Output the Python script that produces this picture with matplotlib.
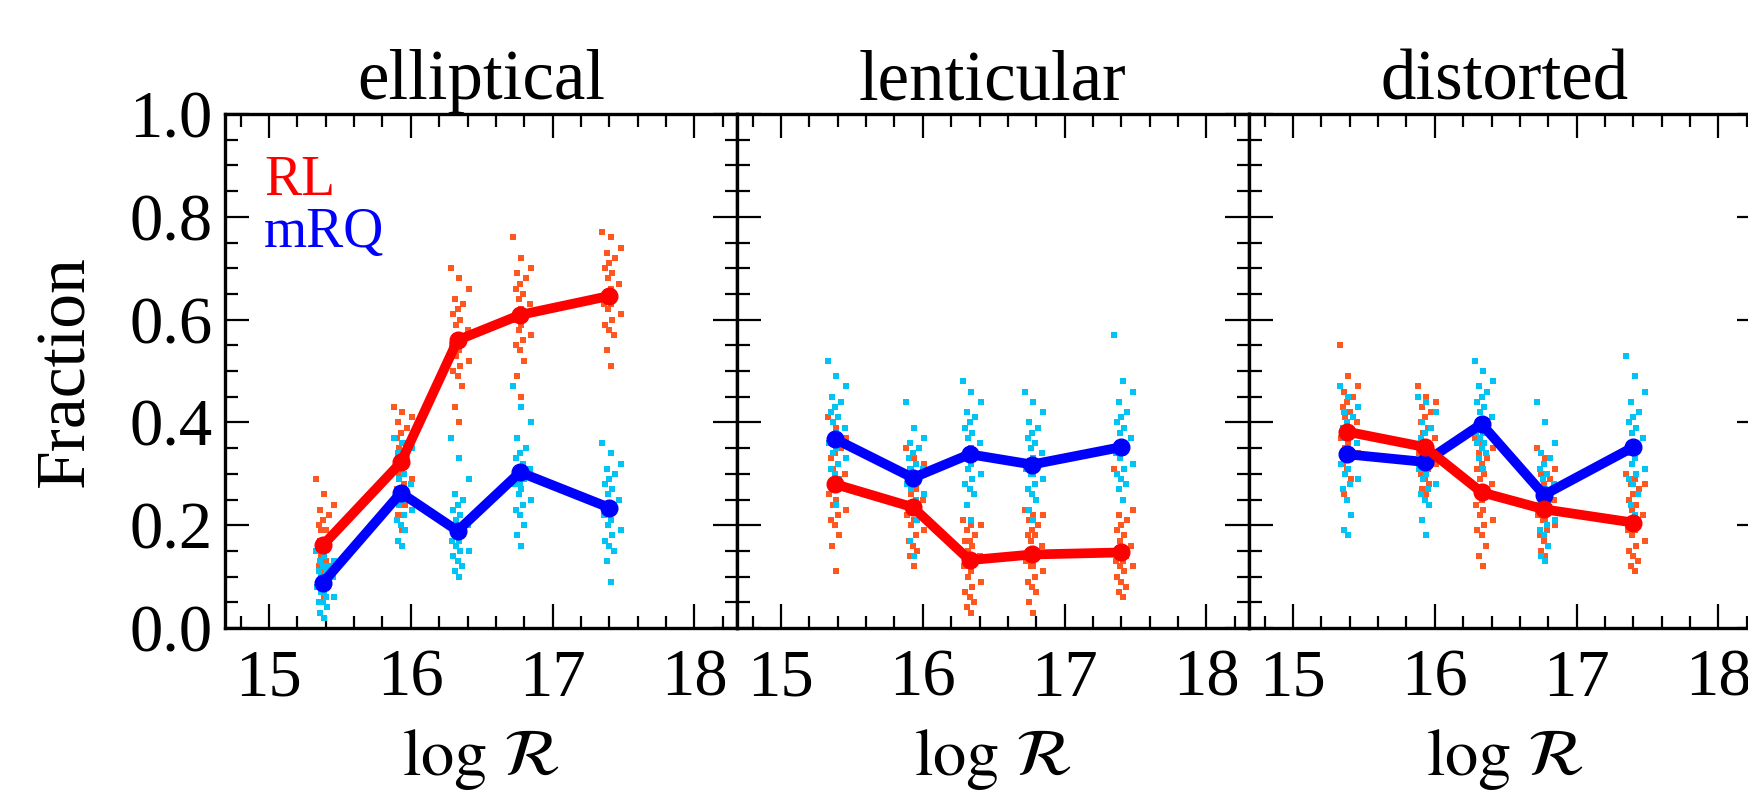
import matplotlib
matplotlib.use("Agg")
import matplotlib.pyplot as plt
from matplotlib.ticker import MultipleLocator

plt.rcParams["font.family"] = ["Liberation Serif", "DejaVu Serif"]
plt.rcParams["mathtext.fontset"] = "stix"

# ---- data ----
log_r = [15.38, 15.93, 16.33, 16.77, 17.40]
titles = ["elliptical", "lenticular", "distorted"]

# mean fractions (the thick lines)
rl_elliptical = [0.161, 0.322, 0.560, 0.609, 0.646]
mrq_elliptical = [0.088, 0.263, 0.189, 0.303, 0.234]
rl_lenticular = [0.280, 0.235, 0.132, 0.143, 0.147]
mrq_lenticular = [0.368, 0.292, 0.338, 0.318, 0.352]
rl_distorted = [0.382, 0.352, 0.264, 0.231, 0.205]
mrq_distorted = [0.338, 0.323, 0.397, 0.259, 0.352]

# horizontal offsets of the sample points around each log R bin
x_jitter = [0.01, -0.02, 0.03, 0.00, -0.03, 0.02, 0.08, -0.01, 0.01, -0.04, 0.00, 0.03,
            -0.02, 0.01, 0.07, -0.01, 0.02, -0.03, 0.00, 0.04, -0.02, 0.08, 0.01, -0.05]

# sample clouds, one list per log R bin
rl_samples_elliptical = [
    [0.06, 0.08, 0.10, 0.11, 0.12, 0.13, 0.13, 0.14, 0.15, 0.15, 0.16, 0.16,
     0.17, 0.17, 0.18, 0.19, 0.19, 0.20, 0.21, 0.22, 0.23, 0.24, 0.26, 0.29],
    [0.19, 0.22, 0.24, 0.26, 0.27, 0.28, 0.29, 0.30, 0.31, 0.31, 0.32, 0.33,
     0.33, 0.34, 0.35, 0.35, 0.36, 0.37, 0.38, 0.39, 0.40, 0.41, 0.42, 0.43],
    [0.40, 0.43, 0.47, 0.49, 0.50, 0.51, 0.52, 0.53, 0.54, 0.55, 0.55, 0.56,
     0.56, 0.57, 0.58, 0.59, 0.60, 0.61, 0.62, 0.63, 0.64, 0.66, 0.68, 0.70],
    [0.45, 0.49, 0.52, 0.54, 0.55, 0.56, 0.57, 0.58, 0.59, 0.60, 0.60, 0.61,
     0.61, 0.62, 0.63, 0.64, 0.65, 0.66, 0.67, 0.68, 0.69, 0.70, 0.72, 0.76],
    [0.51, 0.54, 0.57, 0.58, 0.59, 0.60, 0.61, 0.62, 0.63, 0.63, 0.64, 0.65,
     0.65, 0.66, 0.67, 0.68, 0.69, 0.70, 0.71, 0.72, 0.73, 0.74, 0.76, 0.77],
]
mrq_samples_elliptical = [
    [0.02, 0.03, 0.04, 0.05, 0.05, 0.06, 0.06, 0.07, 0.07, 0.08, 0.08, 0.09,
     0.09, 0.09, 0.10, 0.10, 0.11, 0.11, 0.12, 0.12, 0.13, 0.13, 0.14, 0.15],
    [0.16, 0.17, 0.19, 0.20, 0.21, 0.22, 0.23, 0.24, 0.25, 0.25, 0.26, 0.26,
     0.27, 0.27, 0.28, 0.29, 0.30, 0.31, 0.32, 0.33, 0.34, 0.35, 0.36, 0.37],
    [0.10, 0.11, 0.12, 0.13, 0.14, 0.15, 0.15, 0.16, 0.17, 0.17, 0.18, 0.18,
     0.19, 0.19, 0.20, 0.21, 0.22, 0.23, 0.24, 0.25, 0.26, 0.29, 0.33, 0.37],
    [0.16, 0.18, 0.20, 0.22, 0.23, 0.24, 0.25, 0.26, 0.27, 0.28, 0.28, 0.29,
     0.30, 0.30, 0.31, 0.31, 0.32, 0.33, 0.34, 0.35, 0.37, 0.40, 0.43, 0.47],
    [0.09, 0.13, 0.15, 0.16, 0.17, 0.18, 0.19, 0.20, 0.21, 0.22, 0.23, 0.23,
     0.24, 0.24, 0.25, 0.26, 0.27, 0.28, 0.29, 0.30, 0.31, 0.32, 0.34, 0.36],
]
rl_samples_lenticular = [
    [0.11, 0.16, 0.18, 0.20, 0.21, 0.22, 0.23, 0.24, 0.25, 0.26, 0.27, 0.28,
     0.28, 0.29, 0.30, 0.31, 0.32, 0.33, 0.34, 0.35, 0.36, 0.37, 0.39, 0.41],
    [0.12, 0.14, 0.15, 0.16, 0.17, 0.18, 0.19, 0.20, 0.21, 0.22, 0.23, 0.23,
     0.24, 0.24, 0.25, 0.26, 0.27, 0.28, 0.29, 0.30, 0.31, 0.32, 0.33, 0.35],
    [0.03, 0.04, 0.05, 0.06, 0.07, 0.08, 0.09, 0.10, 0.11, 0.12, 0.12, 0.13,
     0.13, 0.14, 0.14, 0.15, 0.16, 0.17, 0.17, 0.18, 0.19, 0.20, 0.20, 0.21],
    [0.03, 0.05, 0.07, 0.08, 0.09, 0.10, 0.11, 0.12, 0.12, 0.13, 0.14, 0.14,
     0.15, 0.15, 0.16, 0.17, 0.18, 0.18, 0.19, 0.20, 0.21, 0.22, 0.22, 0.23],
    [0.06, 0.07, 0.08, 0.09, 0.10, 0.11, 0.12, 0.12, 0.13, 0.13, 0.14, 0.14,
     0.15, 0.15, 0.16, 0.17, 0.18, 0.19, 0.20, 0.21, 0.22, 0.23, 0.25, 0.31],
]
mrq_samples_lenticular = [
    [0.24, 0.27, 0.29, 0.30, 0.31, 0.32, 0.33, 0.34, 0.35, 0.36, 0.36, 0.37,
     0.37, 0.38, 0.39, 0.40, 0.41, 0.42, 0.43, 0.44, 0.45, 0.47, 0.49, 0.52],
    [0.14, 0.17, 0.21, 0.23, 0.24, 0.25, 0.26, 0.27, 0.28, 0.28, 0.29, 0.29,
     0.30, 0.30, 0.31, 0.31, 0.32, 0.33, 0.34, 0.35, 0.36, 0.37, 0.39, 0.44],
    [0.21, 0.24, 0.26, 0.27, 0.28, 0.29, 0.30, 0.31, 0.32, 0.33, 0.33, 0.34,
     0.34, 0.35, 0.36, 0.37, 0.38, 0.39, 0.40, 0.41, 0.42, 0.44, 0.46, 0.48],
    [0.21, 0.23, 0.25, 0.26, 0.27, 0.28, 0.29, 0.30, 0.30, 0.31, 0.31, 0.32,
     0.32, 0.33, 0.34, 0.35, 0.36, 0.37, 0.38, 0.39, 0.40, 0.42, 0.44, 0.46],
    [0.25, 0.27, 0.28, 0.29, 0.30, 0.31, 0.32, 0.33, 0.34, 0.34, 0.35, 0.35,
     0.36, 0.36, 0.37, 0.38, 0.39, 0.40, 0.41, 0.42, 0.44, 0.46, 0.48, 0.57],
]
rl_samples_distorted = [
    [0.18, 0.26, 0.29, 0.31, 0.32, 0.33, 0.34, 0.35, 0.36, 0.37, 0.38, 0.38,
     0.39, 0.39, 0.40, 0.41, 0.42, 0.43, 0.44, 0.45, 0.46, 0.47, 0.49, 0.55],
    [0.26, 0.27, 0.28, 0.29, 0.30, 0.31, 0.32, 0.33, 0.34, 0.34, 0.35, 0.35,
     0.36, 0.36, 0.37, 0.38, 0.39, 0.40, 0.41, 0.42, 0.43, 0.44, 0.45, 0.47],
    [0.12, 0.14, 0.16, 0.18, 0.19, 0.20, 0.21, 0.22, 0.23, 0.24, 0.25, 0.26,
     0.26, 0.27, 0.28, 0.29, 0.30, 0.31, 0.32, 0.33, 0.34, 0.35, 0.36, 0.37],
    [0.14, 0.15, 0.16, 0.17, 0.18, 0.19, 0.20, 0.21, 0.21, 0.22, 0.22, 0.23,
     0.23, 0.24, 0.25, 0.26, 0.26, 0.27, 0.28, 0.29, 0.30, 0.31, 0.33, 0.35],
    [0.11, 0.12, 0.13, 0.14, 0.15, 0.16, 0.17, 0.18, 0.19, 0.19, 0.20, 0.20,
     0.21, 0.21, 0.22, 0.23, 0.24, 0.25, 0.26, 0.27, 0.28, 0.28, 0.29, 0.30],
]
mrq_samples_distorted = [
    [0.18, 0.19, 0.22, 0.25, 0.27, 0.28, 0.29, 0.30, 0.31, 0.32, 0.33, 0.34,
     0.34, 0.35, 0.36, 0.37, 0.38, 0.39, 0.40, 0.41, 0.42, 0.43, 0.45, 0.47],
    [0.18, 0.21, 0.24, 0.25, 0.26, 0.27, 0.28, 0.29, 0.30, 0.31, 0.32, 0.32,
     0.33, 0.33, 0.34, 0.35, 0.36, 0.37, 0.38, 0.39, 0.40, 0.42, 0.44, 0.45],
    [0.31, 0.33, 0.34, 0.35, 0.36, 0.36, 0.37, 0.37, 0.38, 0.38, 0.39, 0.39,
     0.40, 0.40, 0.41, 0.42, 0.43, 0.44, 0.45, 0.46, 0.47, 0.48, 0.50, 0.52],
    [0.13, 0.14, 0.16, 0.18, 0.19, 0.20, 0.21, 0.22, 0.23, 0.24, 0.25, 0.25,
     0.26, 0.27, 0.28, 0.29, 0.30, 0.31, 0.32, 0.33, 0.34, 0.36, 0.40, 0.44],
    [0.22, 0.24, 0.26, 0.28, 0.29, 0.30, 0.31, 0.32, 0.33, 0.34, 0.35, 0.35,
     0.36, 0.36, 0.37, 0.38, 0.39, 0.40, 0.41, 0.42, 0.44, 0.46, 0.49, 0.53],
]

panels = [
    (rl_elliptical, mrq_elliptical, rl_samples_elliptical, mrq_samples_elliptical),
    (rl_lenticular, mrq_lenticular, rl_samples_lenticular, mrq_samples_lenticular),
    (rl_distorted, mrq_distorted, rl_samples_distorted, mrq_samples_distorted),
]

RL_LINE, MRQ_LINE = "#ff0000", "#0000ff"
RL_DOTS, MRQ_DOTS = "#ff5722", "#00c4f4"

fig = plt.figure(figsize=(17.48, 7.91), dpi=100)
W, H = 1748.0, 791.0
ax_w = 512 / W
ax_h = 514 / H
left0 = 225 / W
bottom = (H - 628) / H

axes = []
for i, (rl, mrq, rl_s, mrq_s) in enumerate(panels):
    ax = fig.add_axes([left0 + i * ax_w, bottom, ax_w, ax_h])
    axes.append(ax)

    # sample clouds
    for k, x0 in enumerate(log_r):
        xs = [x0 + j for j in x_jitter]
        ax.scatter(xs, rl_s[k], marker="s", s=16, color=RL_DOTS, lw=0, zorder=2)
    for k, x0 in enumerate(log_r):
        xs = [x0 + j for j in x_jitter]
        ax.scatter(xs, mrq_s[k], marker="s", s=16, color=MRQ_DOTS, lw=0, zorder=2)

    # mean fractions
    ax.plot(log_r, mrq, "-o", color=MRQ_LINE, lw=7, ms=12, zorder=3)
    ax.plot(log_r, rl, "-o", color=RL_LINE, lw=7, ms=12, zorder=4)

    ax.set_xlim(14.69, 18.30)
    ax.set_ylim(0.0, 1.0)
    ax.xaxis.set_major_locator(MultipleLocator(1))
    ax.xaxis.set_minor_locator(MultipleLocator(0.2))
    ax.yaxis.set_major_locator(MultipleLocator(0.2))
    ax.yaxis.set_minor_locator(MultipleLocator(0.05))
    ax.tick_params(which="both", direction="in", top=True, right=True, width=1.6)
    ax.tick_params(which="major", length=17)
    ax.tick_params(which="minor", length=9)
    ax.tick_params(axis="x", labelsize=48, pad=15)
    ax.tick_params(axis="y", labelsize=48, pad=9)
    for sp in ax.spines.values():
        sp.set_linewidth(2.4)

    ax.set_title(titles[i], fontsize=51, pad=1.5)
    ax.set_xlabel(r"$\log\,\mathcal{R}$", fontsize=48, labelpad=12)
    if i == 0:
        ax.yaxis.set_major_formatter(plt.FormatStrFormatter("%.1f"))
        ax.set_ylabel("Fraction", fontsize=50, labelpad=22)
    else:
        ax.tick_params(axis="y", labelleft=False)

axes[0].text(0.076, 0.842, "RL", color=RL_LINE, fontsize=40,
             transform=axes[0].transAxes, va="baseline")
axes[0].text(0.076, 0.741, "mRQ", color=MRQ_LINE, fontsize=40,
             transform=axes[0].transAxes, va="baseline")

fig.savefig("out.png", dpi=100)
